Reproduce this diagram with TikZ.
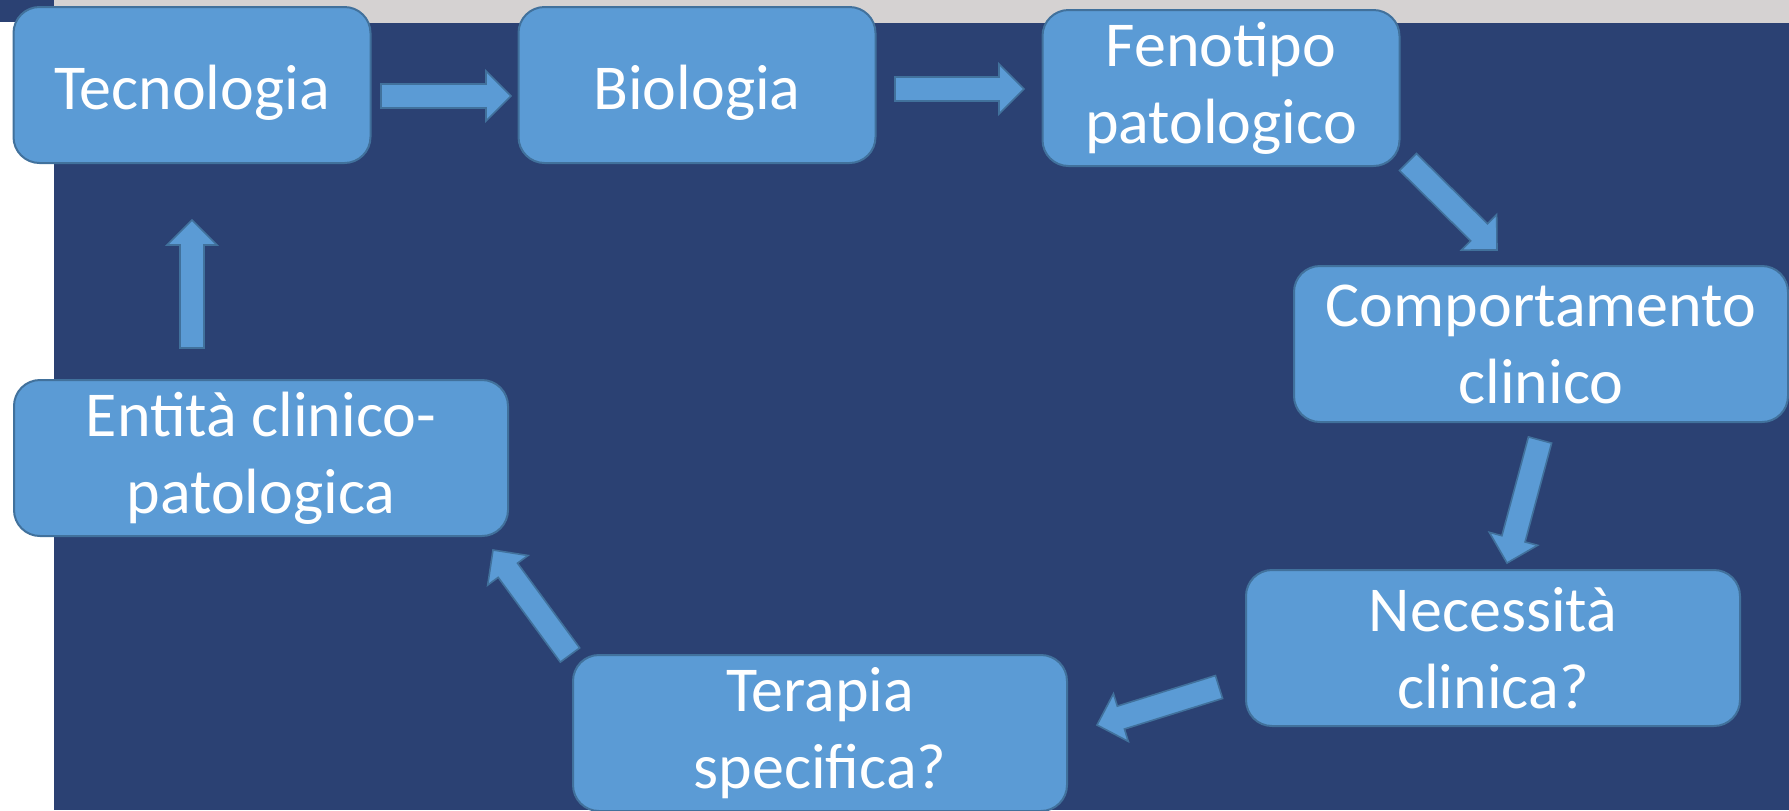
\documentclass[tikz,border=0pt]{standalone}
\usepackage{fontspec}
\setmainfont{Carlito}
\usepackage{tikz}
\usetikzlibrary{calc}

\definecolor{navy}{RGB}{43,65,115}
\definecolor{stripgray}{RGB}{213,210,210}
\definecolor{boxfill}{RGB}{91,155,213}
\definecolor{boxline}{RGB}{65,113,156}

\begin{document}
\begin{tikzpicture}[x=0.5pt, y=-0.5pt,
  box/.style={draw=boxline, fill=boxfill, line width=1pt, rounded corners=13pt,
    minimum width=178.5pt, minimum height=78pt, inner sep=0pt, align=center,
    text=white, font=\fontsize{32}{38.5}\selectfont,
    execute at begin node={\rule{0pt}{30pt}}},
  wide box/.style={box, minimum width=247pt},
  blockarrow/.style={fill=boxfill, draw=boxline, line width=0.8pt, to path={
    let \p1=(\tikztostart), \p2=(\tikztotarget),
        \n1={atan2(\y2-\y1,\x2-\x1)},
        \n2={veclen(\x2-\x1,\y2-\y1)-12.5} in
    ($(\p1)+(\n1+90:6pt)$) -- ($(\p1)+(\n1:\n2)+(\n1+90:6pt)$)
    -- ($(\p1)+(\n1:\n2)+(\n1+90:12.5pt)$) -- (\p2)
    -- ($(\p1)+(\n1:\n2)+(\n1-90:12.5pt)$)
    -- ($(\p1)+(\n1:\n2)+(\n1-90:6pt)$)
    -- ($(\p1)+(\n1-90:6pt)$) -- cycle}}]
\useasboundingbox (0,0) rectangle (1789,810);
\clip (0,0) rectangle (1789,810);

% slide background
\fill[white] (0,0) rectangle (54,810);
\fill[navy] (54,0) rectangle (1789,810);
\fill[stripgray] (54,0) rectangle (1789,23);
\fill[navy] (0,0) rectangle (54,22);

\node [box]      (tec)  at (192,85)  {Tecnologia};
\node [box]      (bio)  at (697,85)  {Biologia};
\node [box]      (feno) at (1221,88) {Fenotipo\\patologico};
\node [wide box] (comp) at (1541,344) {Comportamento\\clinico};
\node [wide box] (nec)  at (1493,648) {Necessità\\clinica?};
\node [wide box] (ter)  at (820,733) {Terapia\\specifica?};
\node [wide box] (ent)  at (261,458) {Entità clinico-\\patologica};

% arrow ends
\coordinate (tec-out)  at (381,96);
\coordinate (bio-in)   at (511,96);
\coordinate (bio-out)  at (895,89);
\coordinate (feno-in)  at (1024,89);
\coordinate (feno-out) at (1408,162);
\coordinate (comp-in)  at (1497,250);
\coordinate (comp-out) at (1540,440);
\coordinate (nec-in)   at (1507,563);
\coordinate (nec-out)  at (1219,687);
\coordinate (ter-in)   at (1097,725);
\coordinate (ter-out)  at (570,655);
\coordinate (ent-in)   at (493,550);
\coordinate (ent-out)  at (192,348);
\coordinate (tec-in)   at (192,220);

\draw[blockarrow] (tec-out) to (bio-in);
\draw[blockarrow] (bio-out) to (feno-in);
\draw[blockarrow] (feno-out) to (comp-in);
\draw[blockarrow] (comp-out) to (nec-in);
\draw[blockarrow] (nec-out) to (ter-in);
\draw[blockarrow] (ter-out) to (ent-in);
\draw[blockarrow] (ent-out) to (tec-in);
\end{tikzpicture}
\end{document}
